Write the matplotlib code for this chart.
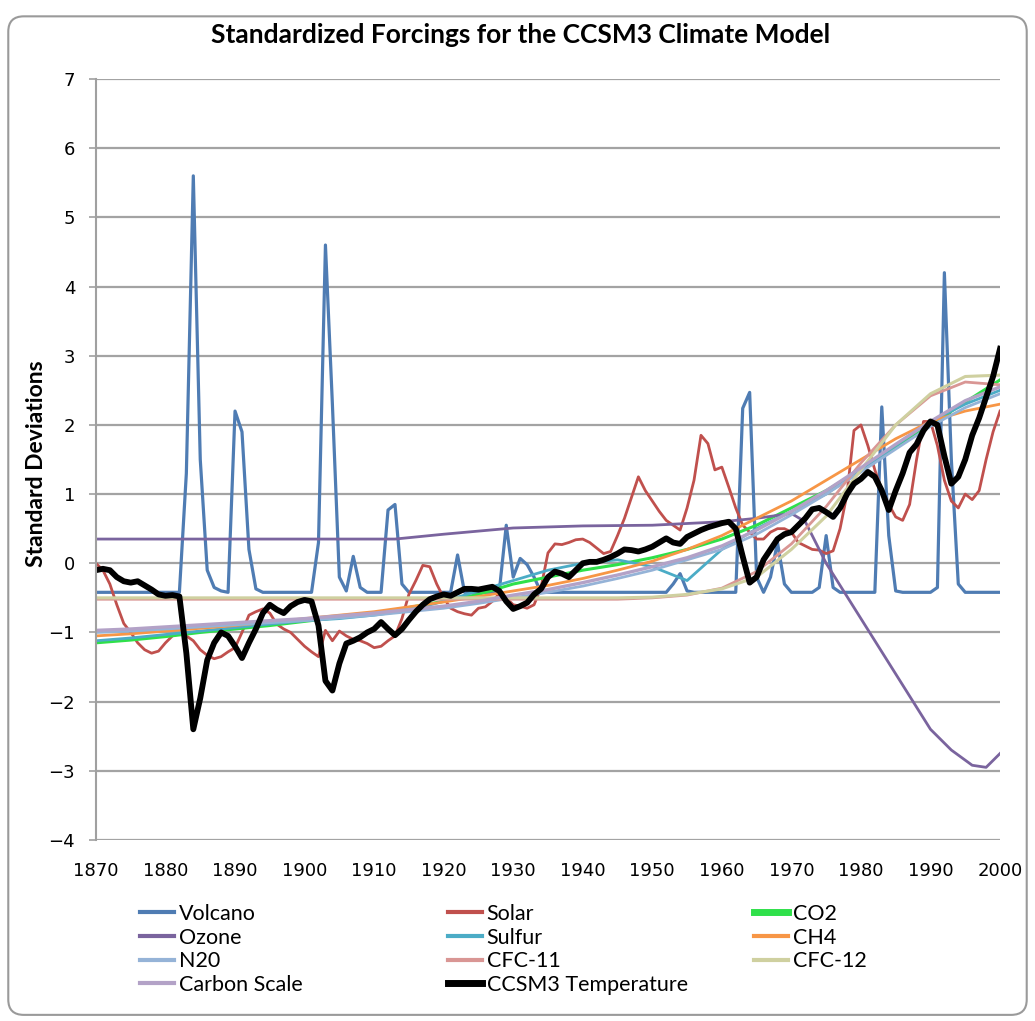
import numpy as np
import matplotlib.pyplot as plt
from matplotlib.patches import FancyBboxPatch

# yearly series
years = np.arange(1870, 2001)

volcano = [
    -0.42, -0.42, -0.42, -0.42, -0.42, -0.42, -0.42, -0.42, -0.42, -0.42,   # 1870s
    -0.42, -0.42, -0.42, 1.3, 5.6, 1.5, -0.1, -0.35, -0.4, -0.42,           # 1880s
    2.2, 1.9, 0.2, -0.37, -0.42, -0.42, -0.42, -0.42, -0.42, -0.42,         # 1890s
    -0.42, -0.42, 0.3, 4.6, 2.3, -0.2, -0.4, 0.1, -0.35, -0.42,             # 1900s
    -0.42, -0.42, 0.77, 0.85, -0.3, -0.42, -0.42, -0.42, -0.42, -0.42,      # 1910s
    -0.42, -0.42, 0.12, -0.42, -0.42, -0.42, -0.42, -0.42, -0.4, 0.55,      # 1920s
    -0.2, 0.07, -0.02, -0.2, -0.42, -0.42, -0.42, -0.42, -0.42, -0.42,      # 1930s
    -0.42, -0.42, -0.42, -0.42, -0.42, -0.42, -0.42, -0.42, -0.42, -0.42,   # 1940s
    -0.42, -0.42, -0.42, -0.3, -0.15, -0.4, -0.42, -0.42, -0.42, -0.42,     # 1950s
    -0.42, -0.42, -0.42, 2.24, 2.47, -0.2, -0.42, -0.2, 0.3, -0.3,          # 1960s
    -0.42, -0.42, -0.42, -0.42, -0.35, 0.4, -0.35, -0.42, -0.42, -0.42,     # 1970s
    -0.42, -0.42, -0.42, 2.26, 0.4, -0.4, -0.42, -0.42, -0.42, -0.42,       # 1980s
    -0.42, -0.35, 4.2, 1.5, -0.3, -0.42, -0.42, -0.42, -0.42, -0.42,        # 1990s
    -0.42,
]

solar = [
    0.0, -0.1, -0.3, -0.6, -0.87, -1.0, -1.15, -1.25, -1.3, -1.27,
    -1.15, -1.05, -1.02, -1.05, -1.12, -1.25, -1.33, -1.38, -1.35, -1.28,
    -1.22, -1.0, -0.75, -0.7, -0.66, -0.72, -0.88, -0.95, -1.0, -1.1,
    -1.2, -1.28, -1.35, -0.97, -1.12, -0.98, -1.05, -1.1, -1.12, -1.16,
    -1.22, -1.2, -1.12, -1.05, -0.8, -0.45, -0.25, -0.03, -0.05, -0.3,
    -0.5, -0.65, -0.7, -0.73, -0.75, -0.65, -0.63, -0.55, -0.44, -0.5,
    -0.6, -0.62, -0.65, -0.6, -0.35, 0.15, 0.28, 0.27, 0.3, 0.34,
    0.35, 0.3, 0.22, 0.14, 0.17, 0.4, 0.65, 0.95, 1.25, 1.05,
    0.9, 0.75, 0.62, 0.55, 0.48, 0.8, 1.2, 1.85, 1.73, 1.35,
    1.39, 1.1, 0.8, 0.55, 0.45, 0.35, 0.35, 0.45, 0.5, 0.5,
    0.45, 0.3, 0.25, 0.2, 0.19, 0.14, 0.18, 0.5, 1.0, 1.92,
    2.0, 1.7, 1.35, 1.06, 0.85, 0.67, 0.62, 0.85, 1.5, 2.05,
    2.05, 1.7, 1.2, 0.9, 0.8, 1.0, 0.92, 1.05, 1.5, 1.9,
    2.2,
]

temperature = [
    -0.1, -0.08, -0.1, -0.2, -0.26, -0.28, -0.26, -0.32, -0.38, -0.45,
    -0.47, -0.46, -0.48, -1.3, -2.4, -1.95, -1.4, -1.15, -1.0, -1.05,
    -1.2, -1.37, -1.15, -0.95, -0.72, -0.6, -0.67, -0.72, -0.62, -0.56,
    -0.53, -0.55, -0.9, -1.7, -1.84, -1.45, -1.16, -1.12, -1.07, -1.0,
    -0.95, -0.85, -0.95, -1.04, -0.95, -0.82, -0.7, -0.6, -0.52, -0.48,
    -0.45, -0.47, -0.42, -0.37, -0.37, -0.38, -0.36, -0.34, -0.4, -0.55,
    -0.66, -0.62, -0.57, -0.45, -0.37, -0.2, -0.12, -0.15, -0.2, -0.1,
    0.0, 0.02, 0.02, 0.05, 0.09, 0.14, 0.2, 0.19, 0.17, 0.2,
    0.24, 0.3, 0.36, 0.3, 0.28, 0.38, 0.43, 0.48, 0.52, 0.55,
    0.58, 0.6, 0.5, 0.1, -0.28, -0.2, 0.05, 0.2, 0.35, 0.42,
    0.45, 0.55, 0.65, 0.78, 0.8, 0.74, 0.67, 0.8, 1.0, 1.15,
    1.22, 1.32, 1.25, 1.05, 0.77, 1.05, 1.3, 1.6, 1.72, 1.92,
    2.05, 2.0, 1.55, 1.15, 1.25, 1.5, 1.85, 2.1, 2.4, 2.7,
    3.1,
]

# smoother forcings read every 5 years
years5 = np.arange(1870, 2001, 5)
co2 = [-1.15, -1.11, -1.06, -1.0, -0.95, -0.9, -0.84, -0.78, -0.72, -0.64,
       -0.55, -0.45, -0.3, -0.2, -0.1, -0.02, 0.08, 0.2, 0.35, 0.55,
       0.8, 1.05, 1.35, 1.68, 2.0, 2.33, 2.65]
sulfur = [-1.12, -1.08, -1.03, -0.98, -0.93, -0.88, -0.83, -0.8, -0.75, -0.68,
          -0.55, -0.4, -0.25, -0.1, 0.0, 0.05, -0.05, -0.25, 0.2, 0.5,
          0.75, 1.0, 1.35, 1.7, 2.05, 2.3, 2.5]
ch4 = [-1.05, -1.02, -0.98, -0.94, -0.9, -0.85, -0.8, -0.75, -0.7, -0.63,
       -0.56, -0.48, -0.4, -0.32, -0.22, -0.1, 0.03, 0.2, 0.4, 0.65,
       0.9, 1.2, 1.5, 1.8, 2.05, 2.2, 2.3]
n2o = [-1.0, -0.98, -0.95, -0.92, -0.89, -0.86, -0.83, -0.79, -0.75, -0.7,
       -0.65, -0.58, -0.5, -0.42, -0.33, -0.22, -0.1, 0.05, 0.2, 0.42,
       0.7, 1.0, 1.32, 1.65, 1.98, 2.25, 2.45]
carbon_scale = [-0.97, -0.95, -0.92, -0.89, -0.86, -0.83, -0.8, -0.76, -0.72, -0.67,
                -0.62, -0.55, -0.46, -0.38, -0.28, -0.17, -0.05, 0.08, 0.25, 0.48,
                0.75, 1.05, 1.38, 1.72, 2.05, 2.35, 2.55]
cfc11 = [-0.52, -0.52, -0.52, -0.52, -0.52, -0.52, -0.52, -0.52, -0.52, -0.52,
         -0.52, -0.52, -0.52, -0.52, -0.52, -0.52, -0.5, -0.46, -0.36, -0.12,
         0.28, 0.82, 1.45, 2.0, 2.42, 2.62, 2.58]
cfc12 = [-0.5, -0.5, -0.5, -0.5, -0.5, -0.5, -0.5, -0.5, -0.5, -0.5,
         -0.5, -0.5, -0.5, -0.5, -0.5, -0.5, -0.49, -0.45, -0.37, -0.2,
         0.2, 0.68, 1.35, 2.0, 2.45, 2.7, 2.72]

ozone_years = [1870, 1913, 1920, 1930, 1940, 1950, 1960, 1965, 1970, 1972,
               1975, 1980, 1985, 1990, 1993, 1996, 1998, 2000]
ozone = [0.35, 0.35, 0.42, 0.51, 0.54, 0.55, 0.6, 0.65, 0.72, 0.6,
         0.0, -0.8, -1.6, -2.4, -2.7, -2.92, -2.95, -2.75]

fig = plt.figure(figsize=(10.35, 10.21), dpi=100)

# rounded chart frame
frame = FancyBboxPatch((0.008, 0.006), 0.984, 0.978, boxstyle="round,pad=0,rounding_size=0.015",
                       transform=fig.transFigure, facecolor="none", edgecolor="#9a9a9a",
                       linewidth=1.5, zorder=-1)
fig.patches.append(frame)

ax = fig.add_axes([0.0927, 0.1773, 0.8735, 0.7453])
ax.set_facecolor("none")

l_vol, = ax.plot(years, volcano, color="#4f7cb3", lw=2.3, label="Volcano")
l_sol, = ax.plot(years, solar, color="#c0504d", lw=2.0, label="Solar")
l_co2, = ax.plot(years5, co2, color="#2fe04a", lw=2.2, label="CO2")
l_oz, = ax.plot(ozone_years, ozone, color="#7a649e", lw=2.0, label="Ozone")
l_sul, = ax.plot(years5, sulfur, color="#4bacc6", lw=2.0, label="Sulfur")
l_ch4, = ax.plot(years5, ch4, color="#f79646", lw=2.0, label="CH4")
l_n2o, = ax.plot(years5, n2o, color="#95b3d7", lw=2.0, label="N20")
l_c11, = ax.plot(years5, cfc11, color="#d99694", lw=2.0, label="CFC-11")
l_c12, = ax.plot(years5, cfc12, color="#cfd0a0", lw=2.2, label="CFC-12")
l_cs, = ax.plot(years5, carbon_scale, color="#b3a2c7", lw=2.4, label="Carbon Scale")
l_tmp, = ax.plot(years, temperature, color="black", lw=4.2, label="CCSM3 Temperature")

ax.set_xlim(1870, 2000)
ax.set_ylim(-4, 7)
ax.set_xticks(np.arange(1870, 2001, 10))
ax.set_yticks(np.arange(-4, 8, 1))
ax.yaxis.grid(True, color="#a3a3a3", lw=1.6)
ax.set_axisbelow(True)
for s in ["top", "right", "bottom"]:
    ax.spines[s].set_visible(False)
ax.spines["left"].set_color("#a0a0a0")
ax.spines["left"].set_linewidth(1.5)
ax.tick_params(axis="y", length=5, width=1.2, color="#a0a0a0", pad=10, labelsize=13)
ax.tick_params(axis="x", length=0, pad=16, labelsize=13)

fig.text(0.503, 1 - 35 / 1021, "Standardized Forcings for the CCSM3 Climate Model",
         ha="center", va="center", fontsize=19, fontweight="bold", family="Lato")
fig.text(37 / 1035, 1 - 464 / 1021, "Standard Deviations", rotation=90,
         ha="center", va="center", fontsize=16.5, fontweight="bold", family="Lato")

cols = [
    ([l_vol, l_oz, l_n2o, l_cs], 140),
    ([l_sol, l_sul, l_c11, l_tmp], 448),
    ([l_co2, l_ch4, l_c12], 754),
]
for handles, xpix in cols:
    leg = fig.legend(handles=handles, loc="upper left",
                     bbox_to_anchor=(xpix / 1035, 1 - 904 / 1021),
                     frameon=False, borderpad=0, borderaxespad=0,
                     handlelength=1.6, handletextpad=0.2, labelspacing=0.17,
                     prop={"family": "Lato", "size": 15.5})
    for h in leg.get_lines():
        if h.get_color() in ("black", "#2fe04a"):
            h.set_linewidth(5)
        else:
            h.set_linewidth(3)

fig.savefig("out.png", dpi=100)
